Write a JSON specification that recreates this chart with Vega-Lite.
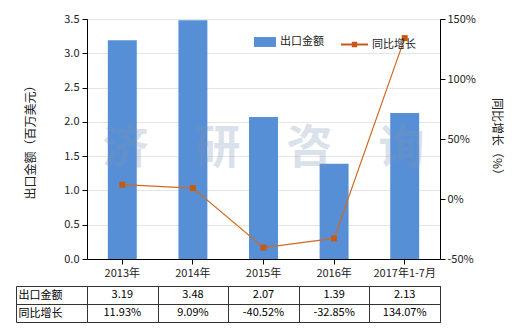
{
  "$schema": "https://vega.github.io/schema/vega-lite/v6.json",
  "padding": {"left": 15, "top": 13, "right": 5, "bottom": 5},
  "spacing": 1,
  "datasets": {
    "main": [
      {"year": "2013年", "amount": 3.19, "growth": 11.93},
      {"year": "2014年", "amount": 3.48, "growth": 9.09},
      {"year": "2015年", "amount": 2.07, "growth": -40.52},
      {"year": "2016年", "amount": 1.39, "growth": -32.85},
      {"year": "2017年1-7月", "amount": 2.13, "growth": 134.07}
    ],
    "table": [
      {"year": "2013年", "row": "出口金额", "text": "3.19"},
      {"year": "2014年", "row": "出口金额", "text": "3.48"},
      {"year": "2015年", "row": "出口金额", "text": "2.07"},
      {"year": "2016年", "row": "出口金额", "text": "1.39"},
      {"year": "2017年1-7月", "row": "出口金额", "text": "2.13"},
      {"year": "2013年", "row": "同比增长", "text": "11.93%"},
      {"year": "2014年", "row": "同比增长", "text": "9.09%"},
      {"year": "2015年", "row": "同比增长", "text": "-40.52%"},
      {"year": "2016年", "row": "同比增长", "text": "-32.85%"},
      {"year": "2017年1-7月", "row": "同比增长", "text": "134.07%"}
    ],
    "wm": [{"t": "济　研　咨　询"}]
  },
  "vconcat": [
    {
      "width": 353,
      "height": 240,
      "data": {"name": "main"},
      "encoding": {
        "x": {
          "field": "year", "type": "nominal", "sort": null,
          "scale": {"paddingInner": 0.59, "paddingOuter": 0.295},
          "axis": {"title": null, "labelAngle": 0, "domainColor": "#000", "tickColor": "#000", "tickSize": 5, "labelPadding": 3, "grid": false}
        }
      },
      "layer": [
        {
          "layer": [
            {
              "mark": {"type": "bar"},
              "encoding": {
                "y": {
                  "field": "amount", "type": "quantitative",
                  "scale": {"domain": [0, 3.5]},
                  "axis": {"title": "出口金额（百万美元）", "values": [0, 0.5, 1, 1.5, 2, 2.5, 3, 3.5], "format": ".1f", "labelOverlap": false, "domainColor": "#000", "tickColor": "#000", "tickSize": 5, "labelPadding": 3, "gridColor": "#e6e6e6", "titlePadding": 26}
                },
                "fill": {
                  "datum": "出口金额",
                  "scale": {"domain": ["出口金额"], "range": ["#568FD6"]},
                  "legend": {"title": null, "orient": "none", "legendX": 167, "legendY": 12, "symbolType": "M-1,-0.45H1V0.45H-1Z", "symbolSize": 484, "symbolStrokeWidth": 0, "labelFontSize": 11, "labelColor": "#222"}
                }
              }
            },
            {
              "data": {"name": "wm"},
              "mark": {"type": "text", "fontSize": 46, "fontWeight": "bold", "color": "#7f96b5", "opacity": 0.28},
              "encoding": {
                "x": {"datum": "2015年"},
                "y": {
                  "datum": 1.6, "type": "quantitative",
                  "scale": {"domain": [0, 3.5]},
                  "axis": {"title": "出口金额（百万美元）", "values": [0, 0.5, 1, 1.5, 2, 2.5, 3, 3.5], "format": ".1f", "labelOverlap": false, "domainColor": "#000", "tickColor": "#000", "tickSize": 5, "labelPadding": 3, "gridColor": "#e6e6e6", "titlePadding": 26}
                },
                "text": {"field": "t"}
              }
            }
          ]
        },
        {
          "encoding": {
            "y": {
              "field": "growth", "type": "quantitative",
              "scale": {"domain": [-50, 150]},
              "axis": {"orient": "right", "title": "同比增长（%）", "titleAngle": 90, "values": [-50, 0, 50, 100, 150], "labelOverlap": false, "labelExpr": "datum.value + '%'", "domainColor": "#000", "tickColor": "#000", "tickSize": 5, "labelPadding": 2, "grid": false, "titlePadding": 14}
            }
          },
          "layer": [
            {
              "mark": {"type": "line", "strokeWidth": 1.2},
              "encoding": {
                "stroke": {
                  "datum": "同比增长",
                  "scale": {"domain": ["同比增长"], "range": ["#D2691E"]},
                  "legend": {"title": null, "orient": "none", "legendX": 254, "legendY": 12, "symbolType": "M-1,-0.07H1V0.07H-1Z M-0.2,-0.2H0.2V0.2H-0.2Z", "symbolSize": 729, "symbolFillColor": "#C8561A", "symbolStrokeColor": "#C8561A", "symbolStrokeWidth": 0, "labelFontSize": 11, "labelColor": "#222"}
                }
              }
            },
            {
              "mark": {"type": "point", "shape": "square", "filled": true, "size": 36, "color": "#C55A11", "opacity": 1}
            }
          ]
        }
      ],
      "resolve": {"scale": {"y": "independent"}}
    },
    {
      "width": 353,
      "height": 36,
      "data": {"name": "table"},
      "view": {"stroke": "#333"},
      "mark": {"type": "text", "fontSize": 11, "color": "#000"},
      "encoding": {
        "x": {
          "field": "year", "type": "nominal", "sort": null,
          "scale": {"paddingInner": 0, "paddingOuter": 0},
          "axis": {"title": null, "labels": false, "ticks": false, "domain": false, "grid": true, "tickBand": "extent", "gridColor": "#333", "gridOpacity": 1}
        },
        "y": {
          "field": "row", "type": "nominal", "sort": ["出口金额", "同比增长"],
          "scale": {"paddingInner": 0, "paddingOuter": 0},
          "axis": {"title": null, "offset": 71, "domain": true, "domainColor": "#333", "ticks": true, "tickSize": -71, "tickBand": "extent", "tickColor": "#333", "grid": true, "gridColor": "#333", "gridOpacity": 1, "labelAlign": "left", "labelPadding": 69, "labelFontSize": 11, "labelColor": "#000"}
        },
        "text": {"field": "text"}
      }
    }
  ],
  "config": {
    "font": "Noto Sans CJK SC",
    "axis": {"labelFontSize": 11, "labelColor": "#222", "titleFontSize": 12, "titleFontWeight": "normal", "titleColor": "#222"},
    "view": {"stroke": null},
    "legend": {"padding": 0}
  }
}
